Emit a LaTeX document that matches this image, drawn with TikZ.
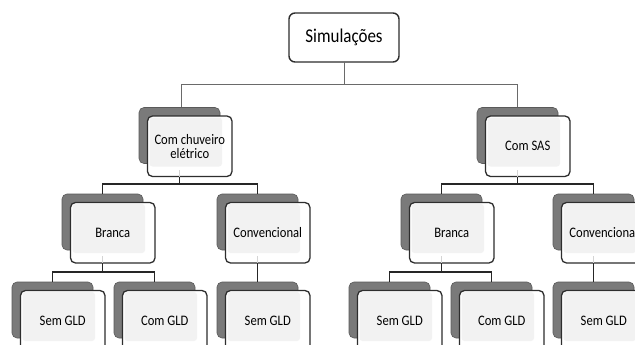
\documentclass[tikz,border=0pt]{standalone}
\usepackage{fontspec}
\setmainfont{Carlito}[FakeStretch=0.87]
\usetikzlibrary{calc}
\definecolor{shadowg}{HTML}{7A7A7A}
\definecolor{shadowd}{HTML}{5A5A5A}
\definecolor{innerg}{HTML}{F2F2F2}
\definecolor{boxline}{HTML}{2E2E2E}
\definecolor{topline}{HTML}{6A6A6A}
\definecolor{tickg}{HTML}{D4D4D4}
\tikzset{
  shadowbox/.style={rectangle, rounded corners=5pt, fill=shadowg, draw=shadowd, line width=0.6pt,
    minimum width=81pt, minimum height=56pt, inner sep=0pt, outer sep=0pt},
  frontbox/.style={rectangle, rounded corners=5pt, fill=white, draw=boxline, line width=1.3pt,
    minimum width=84.5pt, minimum height=60.5pt, inner sep=0pt, outer sep=0pt, align=center,
    font=\fontsize{14.5}{14}\selectfont,
    path picture={\fill[innerg, rounded corners=3pt]
      ([xshift=2pt,yshift=-1.5pt]path picture bounding box.north west) rectangle
      ([xshift=-10pt,yshift=10pt]path picture bounding box.south east);}},
  rootbox/.style={rectangle, rounded corners=6pt, fill=white, draw=boxline, line width=1.4pt,
    minimum width=110pt, minimum height=49pt, inner sep=0pt, outer sep=0pt,
    font=\fontsize{19.5}{20}\selectfont},
  thinconn/.style={draw=topline, line width=1pt},
  conn/.style={draw=black!85, line width=1.5pt},
  tickline/.style={draw=tickg, line width=1pt}
}
\newcommand\tbox[4]{%
  \node[shadowbox, anchor=north west] (#1s) at (#2,#3) {};
  \node[frontbox, anchor=north west] (#1) at (#2+8.5,#3+8.5) {#4};
}
\begin{document}
\begin{tikzpicture}[x=1pt,y=-1pt]
\useasboundingbox (0,0) rectangle (635,345);
\clip (0,0) rectangle (635,345);
\fill[white] (0,0) rectangle (635,345);
% root
\node[rootbox] (root) at (344,37.5) {Simulações};
% level 1
\tbox{La}{139}{107.5}{Com chuveiro\\elétrico}
\tbox{Lb}{477}{107.5}{Com SAS}
% level 2
\tbox{Ma}{62}{194}{Branca}
\tbox{Mb}{217}{194}{Convencional}
\tbox{Mc}{401}{194}{Branca}
\tbox{Md}{553}{194}{Convencional}
% level 3
\tbox{Na}{12}{282}{Sem GLD}
\tbox{Nb}{114}{282}{Com GLD}
\tbox{Nc}{217}{282}{Sem GLD}
\tbox{Nd}{349}{282}{Sem GLD}
\tbox{Ne}{451}{282}{Com GLD}
\tbox{Nf}{553}{282}{Sem GLD}
% connectors root -> level 1
\coordinate (j0) at ($(root.south)+(0,23)$);
\draw[thinconn] (root.south) -- (j0);
\draw[thinconn] (j0) -| ([xshift=2pt]Las.north);
\draw[thinconn] (j0) -| (Lbs.north);
% level 1 -> level 2
\draw[tickline] (Las |- La.south) -- ++(0,-7);
\draw[tickline] (Lbs |- Lb.south) -- ++(0,-7);
\coordinate (j1) at ($(Las |- La.south)+(0,7.5)$);
\coordinate (j2) at ($(Lbs |- Lb.south)+(0,7.5)$);
\draw[conn] (Las |- La.south) -- (j1);
\draw[conn] (j1) -| (Mas.north);
\draw[conn] (j1) -| (Mbs.north);
\draw[conn] (Lbs |- Lb.south) -- (j2);
\draw[conn] (j2) -| (Mcs.north);
\draw[conn] (j2) -| (Mds.north);
% level 2 -> level 3
\draw[tickline] (Mas |- Ma.south) -- ++(0,-7);
\draw[tickline] (Mbs |- Mb.south) -- ++(0,-7);
\draw[tickline] (Mcs |- Mc.south) -- ++(0,-7);
\draw[tickline] (Mds |- Md.south) -- ++(0,-7);
\coordinate (k1) at ($(Mas |- Ma.south)+(0,9)$);
\coordinate (k2) at ($(Mcs |- Mc.south)+(0,9)$);
\draw[conn] (Mas |- Ma.south) -- (k1);
\draw[conn] (k1) -| (Nas.north);
\draw[conn] (k1) -| (Nbs.north);
\draw[conn] (Mbs |- Mb.south) -- (Ncs.north);
\draw[conn] (Mcs |- Mc.south) -- (k2);
\draw[conn] (k2) -| (Nds.north);
\draw[conn] (k2) -| (Nes.north);
\draw[conn] (Mds |- Md.south) -- (Nfs.north);
\end{tikzpicture}
\end{document}
